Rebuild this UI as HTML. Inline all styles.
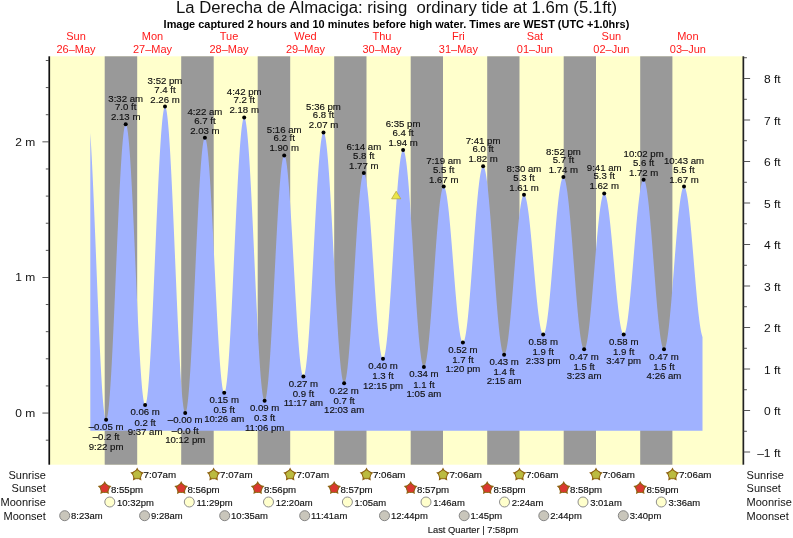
<!DOCTYPE html>
<html lang="en"><head><meta charset="utf-8"><title>La Derecha de Almaciga tide times</title>
<style>html,body{margin:0;padding:0;background:#fff}body{width:793px;height:538px;overflow:hidden}svg{display:block}text{font-family:"Liberation Sans",Arial,Helvetica,sans-serif;fill:#111}.s{font-size:9.3px;stroke:#111;stroke-width:0.15px}.a{font-size:11.5px}.r{font-size:11px}.d{font-size:11px;fill:#ff1a1a}.m{text-anchor:middle}.e{text-anchor:end}</style></head><body>
<svg width="793" height="538" viewBox="0 0 793 538">
<rect width="793" height="538" fill="#fff"/>
<text x="176.0" y="13.4" style="font-size:16px;white-space:pre" textLength="441" lengthAdjust="spacingAndGlyphs">La Derecha de Almaciga: rising  ordinary tide at 1.6m (5.1ft)</text>
<text x="163.6" y="28.0" style="font-size:10.2px;font-weight:bold;fill:#000" textLength="465.7" lengthAdjust="spacingAndGlyphs">Image captured 2 hours and 10 minutes before high water. Times are WEST (UTC +1.0hrs)</text>
<text class="d m" x="76.0" y="39.8">Sun</text><text class="d m" x="76.0" y="53">26–May</text>
<text class="d m" x="152.5" y="39.8">Mon</text><text class="d m" x="152.5" y="53">27–May</text>
<text class="d m" x="229.0" y="39.8">Tue</text><text class="d m" x="229.0" y="53">28–May</text>
<text class="d m" x="305.5" y="39.8">Wed</text><text class="d m" x="305.5" y="53">29–May</text>
<text class="d m" x="382.0" y="39.8">Thu</text><text class="d m" x="382.0" y="53">30–May</text>
<text class="d m" x="458.4" y="39.8">Fri</text><text class="d m" x="458.4" y="53">31–May</text>
<text class="d m" x="534.9" y="39.8">Sat</text><text class="d m" x="534.9" y="53">01–Jun</text>
<text class="d m" x="611.4" y="39.8">Sun</text><text class="d m" x="611.4" y="53">02–Jun</text>
<text class="d m" x="687.9" y="39.8">Mon</text><text class="d m" x="687.9" y="53">03–Jun</text>
<rect x="50" y="56.3" width="693" height="408.4" fill="#ffffcc"/>
<rect x="104.7" y="56.3" width="32.5" height="408.4" fill="#999999"/>
<rect x="181.2" y="56.3" width="32.5" height="408.4" fill="#999999"/>
<rect x="257.7" y="56.3" width="32.5" height="408.4" fill="#999999"/>
<rect x="334.2" y="56.3" width="32.3" height="408.4" fill="#999999"/>
<rect x="410.7" y="56.3" width="32.3" height="408.4" fill="#999999"/>
<rect x="487.2" y="56.3" width="32.3" height="408.4" fill="#999999"/>
<rect x="563.7" y="56.3" width="32.3" height="408.4" fill="#999999"/>
<rect x="640.2" y="56.3" width="32.2" height="408.4" fill="#999999"/>
<path d="M90.3 430.7 L90.3 133.00 L90.8 140.85 L91.3 149.45 L91.8 158.76 L92.3 168.72 L92.8 179.26 L93.3 190.32 L93.8 201.82 L94.3 213.70 L94.8 225.88 L95.3 238.28 L95.8 250.82 L96.3 263.43 L96.8 276.02 L97.3 288.53 L97.8 300.85 L98.3 312.93 L98.8 324.68 L99.3 336.03 L99.8 346.90 L100.3 357.23 L100.8 366.96 L101.3 376.02 L101.8 384.35 L102.3 391.90 L102.8 398.63 L103.3 404.49 L103.8 409.44 L104.3 413.46 L104.8 416.51 L105.3 418.58 L105.8 419.66 L106.3 419.75 L106.8 418.87 L107.3 417.07 L107.8 414.33 L108.3 410.69 L108.8 406.16 L109.3 400.77 L109.8 394.57 L110.3 387.57 L110.8 379.85 L111.3 371.43 L111.8 362.38 L112.3 352.75 L112.8 342.61 L113.3 332.01 L113.8 321.03 L114.3 309.74 L114.8 298.21 L115.3 286.51 L115.8 274.72 L116.3 262.91 L116.8 251.16 L117.3 239.54 L117.8 228.13 L118.3 217.00 L118.8 206.23 L119.3 195.87 L119.8 186.00 L120.3 176.67 L120.8 167.96 L121.3 159.91 L121.8 152.58 L122.3 146.01 L122.8 140.24 L123.3 135.32 L123.8 131.27 L124.3 128.12 L124.8 125.89 L125.3 124.59 L125.8 124.23 L126.3 124.80 L126.8 126.29 L127.3 128.69 L127.8 131.97 L128.3 136.13 L128.8 141.13 L129.3 146.94 L129.8 153.53 L130.3 160.84 L130.8 168.83 L131.3 177.45 L131.8 186.64 L132.3 196.35 L132.8 206.50 L133.3 217.03 L133.8 227.87 L134.3 238.96 L134.8 250.21 L135.3 261.56 L135.8 272.93 L136.3 284.24 L136.8 295.42 L137.3 306.40 L137.8 317.11 L138.3 327.47 L138.8 337.42 L139.3 346.89 L139.8 355.82 L140.3 364.15 L140.8 371.83 L141.3 378.80 L141.8 385.03 L142.3 390.46 L142.8 395.07 L143.3 398.82 L143.8 401.69 L144.3 403.66 L144.8 404.72 L145.3 404.86 L145.8 404.07 L146.3 402.36 L146.8 399.74 L147.3 396.22 L147.8 391.83 L148.3 386.60 L148.8 380.55 L149.3 373.72 L149.8 366.16 L150.3 357.92 L150.8 349.04 L151.3 339.58 L151.8 329.60 L152.3 319.16 L152.8 308.32 L153.3 297.16 L153.8 285.75 L154.3 274.14 L154.8 262.42 L155.3 250.66 L155.8 238.93 L156.3 227.31 L156.8 215.86 L157.3 204.66 L157.8 193.78 L158.3 183.28 L158.8 173.23 L159.3 163.70 L159.8 154.74 L160.3 146.41 L160.8 138.75 L161.3 131.83 L161.8 125.67 L162.3 120.33 L162.8 115.82 L163.3 112.19 L163.8 109.45 L164.3 107.61 L164.8 106.70 L165.3 106.72 L165.8 107.66 L166.3 109.52 L166.8 112.30 L167.3 115.96 L167.8 120.50 L168.3 125.88 L168.8 132.07 L169.3 139.04 L169.8 146.74 L170.3 155.12 L170.8 164.13 L171.3 173.73 L171.8 183.85 L172.3 194.42 L172.8 205.39 L173.3 216.70 L173.8 228.26 L174.3 240.01 L174.8 251.89 L175.3 263.81 L175.8 275.71 L176.3 287.51 L176.8 299.14 L177.3 310.54 L177.8 321.63 L178.3 332.34 L178.8 342.62 L179.3 352.39 L179.8 361.60 L180.3 370.20 L180.8 378.13 L181.3 385.34 L181.8 391.80 L182.3 397.45 L182.8 402.27 L183.3 406.23 L183.8 409.30 L184.3 411.47 L184.8 412.72 L185.3 413.04 L185.8 412.47 L186.3 411.02 L186.8 408.70 L187.3 405.54 L187.8 401.54 L188.3 396.74 L188.8 391.16 L189.3 384.85 L189.8 377.83 L190.3 370.17 L190.8 361.89 L191.3 353.07 L191.8 343.74 L192.3 333.99 L192.8 323.85 L193.3 313.41 L193.8 302.73 L194.3 291.87 L194.8 280.91 L195.3 269.91 L195.8 258.94 L196.3 248.08 L196.8 237.40 L197.3 226.96 L197.8 216.83 L198.3 207.07 L198.8 197.75 L199.3 188.92 L199.8 180.65 L200.3 172.98 L200.8 165.97 L201.3 159.66 L201.8 154.08 L202.3 149.28 L202.8 145.29 L203.3 142.12 L203.8 139.81 L204.3 138.36 L204.8 137.79 L205.3 138.09 L205.8 139.22 L206.3 141.18 L206.8 143.97 L207.3 147.55 L207.8 151.91 L208.3 157.02 L208.8 162.84 L209.3 169.34 L209.8 176.47 L210.3 184.19 L210.8 192.44 L211.3 201.17 L211.8 210.32 L212.3 219.84 L212.8 229.66 L213.3 239.71 L213.8 249.93 L214.3 260.25 L214.8 270.60 L215.3 280.92 L215.8 291.14 L216.3 301.18 L216.8 310.99 L217.3 320.49 L217.8 329.63 L218.3 338.35 L218.8 346.58 L219.3 354.28 L219.8 361.39 L220.3 367.86 L220.8 373.66 L221.3 378.74 L221.8 383.08 L222.3 386.63 L222.8 389.39 L223.3 391.33 L223.8 392.43 L224.3 392.70 L224.8 392.11 L225.3 390.68 L225.8 388.41 L226.3 385.32 L226.8 381.42 L227.3 376.74 L227.8 371.31 L228.3 365.16 L228.8 358.33 L229.3 350.85 L229.8 342.79 L230.3 334.19 L230.8 325.09 L231.3 315.56 L231.8 305.66 L232.3 295.45 L232.8 284.98 L233.3 274.34 L233.8 263.57 L234.3 252.75 L234.8 241.94 L235.3 231.22 L235.8 220.64 L236.3 210.27 L236.8 200.19 L237.3 190.44 L237.8 181.09 L238.3 172.20 L238.8 163.82 L239.3 156.01 L239.8 148.81 L240.3 142.26 L240.8 136.42 L241.3 131.30 L241.8 126.96 L242.3 123.40 L242.8 120.66 L243.3 118.75 L243.8 117.68 L244.3 117.47 L244.8 118.09 L245.3 119.56 L245.8 121.85 L246.3 124.95 L246.8 128.85 L247.3 133.52 L247.8 138.94 L248.3 145.07 L248.8 151.87 L249.3 159.32 L249.8 167.35 L250.3 175.93 L250.8 185.00 L251.3 194.51 L251.8 204.41 L252.3 214.63 L252.8 225.11 L253.3 235.79 L253.8 246.62 L254.3 257.51 L254.8 268.42 L255.3 279.27 L255.8 290.01 L256.3 300.56 L256.8 310.86 L257.3 320.86 L257.8 330.49 L258.3 339.70 L258.8 348.43 L259.3 356.63 L259.8 364.26 L260.3 371.26 L260.8 377.59 L261.3 383.23 L261.8 388.12 L262.3 392.26 L262.8 395.60 L263.3 398.13 L263.8 399.85 L264.3 400.72 L264.8 400.76 L265.3 400.02 L265.8 398.49 L266.3 396.19 L266.8 393.14 L267.3 389.36 L267.8 384.86 L268.3 379.69 L268.8 373.86 L269.3 367.43 L269.8 360.42 L270.3 352.89 L270.8 344.88 L271.3 336.44 L271.8 327.64 L272.3 318.51 L272.8 309.13 L273.3 299.55 L273.8 289.83 L274.3 280.04 L274.8 270.24 L275.3 260.48 L275.8 250.84 L276.3 241.38 L276.8 232.15 L277.3 223.21 L277.8 214.62 L278.3 206.44 L278.8 198.71 L279.3 191.50 L279.8 184.83 L280.3 178.77 L280.8 173.33 L281.3 168.57 L281.8 164.50 L282.3 161.16 L282.8 158.57 L283.3 156.74 L283.8 155.69 L284.3 155.42 L284.8 155.90 L285.3 157.13 L285.8 159.08 L286.3 161.75 L286.8 165.12 L287.3 169.16 L287.8 173.85 L288.3 179.16 L288.8 185.06 L289.3 191.49 L289.8 198.43 L290.3 205.82 L290.8 213.61 L291.3 221.75 L291.8 230.19 L292.3 238.86 L292.8 247.72 L293.3 256.71 L293.8 265.75 L294.3 274.79 L294.8 283.78 L295.3 292.64 L295.8 301.33 L296.3 309.78 L296.8 317.93 L297.3 325.74 L297.8 333.14 L298.3 340.10 L298.8 346.55 L299.3 352.47 L299.8 357.80 L300.3 362.52 L300.8 366.59 L301.3 369.98 L301.8 372.68 L302.3 374.66 L302.8 375.91 L303.3 376.42 L303.8 376.20 L304.3 375.23 L304.8 373.52 L305.3 371.09 L305.8 367.95 L306.3 364.12 L306.8 359.62 L307.3 354.48 L307.8 348.73 L308.3 342.41 L308.8 335.55 L309.3 328.19 L309.8 320.39 L310.3 312.19 L310.8 303.63 L311.3 294.78 L311.8 285.68 L312.3 276.39 L312.8 266.96 L313.3 257.46 L313.8 247.94 L314.3 238.46 L314.8 229.08 L315.3 219.85 L315.8 210.83 L316.3 202.07 L316.8 193.64 L317.3 185.57 L317.8 177.92 L318.3 170.74 L318.8 164.07 L319.3 157.95 L319.8 152.41 L320.3 147.50 L320.8 143.23 L321.3 139.64 L321.8 136.76 L322.3 134.58 L322.8 133.14 L323.3 132.43 L323.8 132.47 L324.3 133.24 L324.8 134.73 L325.3 136.94 L325.8 139.86 L326.3 143.47 L326.8 147.74 L327.3 152.66 L327.8 158.19 L328.3 164.30 L328.8 170.96 L329.3 178.13 L329.8 185.75 L330.3 193.80 L330.8 202.23 L331.3 210.98 L331.8 220.00 L332.3 229.24 L332.8 238.65 L333.3 248.17 L333.8 257.74 L334.3 267.32 L334.8 276.84 L335.3 286.25 L335.8 295.49 L336.3 304.52 L336.8 313.27 L337.3 321.69 L337.8 329.75 L338.3 337.38 L338.8 344.55 L339.3 351.21 L339.8 357.33 L340.3 362.87 L340.8 367.79 L341.3 372.07 L341.8 375.68 L342.3 378.61 L342.8 380.83 L343.3 382.33 L343.8 383.10 L344.3 383.15 L344.8 382.53 L345.3 381.23 L345.8 379.29 L346.3 376.70 L346.8 373.49 L347.3 369.66 L347.8 365.26 L348.3 360.31 L348.8 354.83 L349.3 348.87 L349.8 342.45 L350.3 335.63 L350.8 328.44 L351.3 320.94 L351.8 313.16 L352.3 305.16 L352.8 296.98 L353.3 288.69 L353.8 280.33 L354.3 271.96 L354.8 263.62 L355.3 255.38 L355.8 247.28 L356.3 239.38 L356.8 231.72 L357.3 224.36 L357.8 217.34 L358.3 210.71 L358.8 204.50 L359.3 198.76 L359.8 193.53 L360.3 188.83 L360.8 184.71 L361.3 181.17 L361.8 178.25 L362.3 175.96 L362.8 174.33 L363.3 173.35 L363.8 173.04 L364.3 173.37 L364.8 174.32 L365.3 175.89 L365.8 178.06 L366.3 180.82 L366.8 184.15 L367.3 188.03 L367.8 192.44 L368.3 197.33 L368.8 202.69 L369.3 208.47 L369.8 214.63 L370.3 221.14 L370.8 227.95 L371.3 235.02 L371.8 242.29 L372.3 249.72 L372.8 257.26 L373.3 264.86 L373.8 272.46 L374.3 280.02 L374.8 287.49 L375.3 294.81 L375.8 301.94 L376.3 308.82 L376.8 315.42 L377.3 321.69 L377.8 327.58 L378.3 333.06 L378.8 338.09 L379.3 342.63 L379.8 346.66 L380.3 350.15 L380.8 353.07 L381.3 355.41 L381.8 357.15 L382.3 358.27 L382.8 358.78 L383.3 358.66 L383.8 357.91 L384.3 356.54 L384.8 354.54 L385.3 351.94 L385.8 348.75 L386.3 344.99 L386.8 340.68 L387.3 335.84 L387.8 330.52 L388.3 324.73 L388.8 318.51 L389.3 311.91 L389.8 304.96 L390.3 297.71 L390.8 290.19 L391.3 282.46 L391.8 274.55 L392.3 266.52 L392.8 258.42 L393.3 250.30 L393.8 242.20 L394.3 234.17 L394.8 226.27 L395.3 218.54 L395.8 211.02 L396.3 203.77 L396.8 196.82 L397.3 190.22 L397.8 184.01 L398.3 178.23 L398.8 172.91 L399.3 168.08 L399.8 163.77 L400.3 160.02 L400.8 156.83 L401.3 154.23 L401.8 152.25 L402.3 150.87 L402.8 150.13 L403.3 150.02 L403.8 150.53 L404.3 151.66 L404.8 153.41 L405.3 155.76 L405.8 158.70 L406.3 162.22 L406.8 166.28 L407.3 170.88 L407.8 175.98 L408.3 181.56 L408.8 187.58 L409.3 194.00 L409.8 200.80 L410.3 207.92 L410.8 215.34 L411.3 223.01 L411.8 230.88 L412.3 238.90 L412.8 247.04 L413.3 255.25 L413.8 263.47 L414.3 271.67 L414.8 279.79 L415.3 287.79 L415.8 295.61 L416.3 303.23 L416.8 310.59 L417.3 317.65 L417.8 324.36 L418.3 330.70 L418.8 336.63 L419.3 342.10 L419.8 347.09 L420.3 351.58 L420.8 355.53 L421.3 358.92 L421.8 361.73 L422.3 363.95 L422.8 365.57 L423.3 366.57 L423.8 366.94 L424.3 366.72 L424.8 365.93 L425.3 364.59 L425.8 362.70 L426.3 360.27 L426.8 357.32 L427.3 353.87 L427.8 349.93 L428.3 345.54 L428.8 340.72 L429.3 335.49 L429.8 329.91 L430.3 323.98 L430.8 317.77 L431.3 311.29 L431.8 304.61 L432.3 297.74 L432.8 290.75 L433.3 283.67 L433.8 276.54 L434.3 269.42 L434.8 262.34 L435.3 255.36 L435.8 248.50 L436.3 241.83 L436.8 235.37 L437.3 229.17 L437.8 223.27 L438.3 217.70 L438.8 212.51 L439.3 207.71 L439.8 203.35 L440.3 199.44 L440.8 196.02 L441.3 193.10 L441.8 190.71 L442.3 188.85 L442.8 187.54 L443.3 186.79 L443.8 186.61 L444.3 186.95 L444.8 187.83 L445.3 189.21 L445.8 191.10 L446.3 193.48 L446.8 196.34 L447.3 199.66 L447.8 203.42 L448.3 207.58 L448.8 212.12 L449.3 217.02 L449.8 222.24 L450.3 227.74 L450.8 233.49 L451.3 239.44 L451.8 245.57 L452.3 251.82 L452.8 258.16 L453.3 264.54 L453.8 270.92 L454.3 277.26 L454.8 283.51 L455.3 289.64 L455.8 295.59 L456.3 301.34 L456.8 306.85 L457.3 312.07 L457.8 316.97 L458.3 321.52 L458.8 325.68 L459.3 329.44 L459.8 332.76 L460.3 335.63 L460.8 338.02 L461.3 339.91 L461.8 341.30 L462.3 342.18 L462.8 342.53 L463.3 342.36 L463.8 341.66 L464.3 340.43 L464.8 338.69 L465.3 336.43 L465.8 333.69 L466.3 330.46 L466.8 326.78 L467.3 322.66 L467.8 318.14 L468.3 313.22 L468.8 307.95 L469.3 302.37 L469.8 296.49 L470.3 290.35 L470.8 284.01 L471.3 277.48 L471.8 270.81 L472.3 264.05 L472.8 257.22 L473.3 250.38 L473.8 243.57 L474.3 236.82 L474.8 230.17 L475.3 223.67 L475.8 217.36 L476.3 211.27 L476.8 205.44 L477.3 199.90 L477.8 194.69 L478.3 189.85 L478.8 185.39 L479.3 181.34 L479.8 177.74 L480.3 174.60 L480.8 171.93 L481.3 169.77 L481.8 168.11 L482.3 166.98 L482.8 166.37 L483.3 166.29 L483.8 166.74 L484.3 167.72 L484.8 169.22 L485.3 171.24 L485.8 173.76 L486.3 176.77 L486.8 180.25 L487.3 184.18 L487.8 188.54 L488.3 193.31 L488.8 198.45 L489.3 203.95 L489.8 209.76 L490.3 215.86 L490.8 222.21 L491.3 228.77 L491.8 235.52 L492.3 242.40 L492.8 249.39 L493.3 256.44 L493.8 263.51 L494.3 270.57 L494.8 277.57 L495.3 284.47 L495.8 291.24 L496.3 297.83 L496.8 304.22 L497.3 310.35 L497.8 316.21 L498.3 321.75 L498.8 326.95 L499.3 331.78 L499.8 336.20 L500.3 340.20 L500.8 343.74 L501.3 346.82 L501.8 349.42 L502.3 351.51 L502.8 353.09 L503.3 354.15 L503.8 354.68 L504.3 354.68 L504.8 354.18 L505.3 353.19 L505.8 351.71 L506.3 349.76 L506.8 347.33 L507.3 344.46 L507.8 341.15 L508.3 337.43 L508.8 333.32 L509.3 328.84 L509.8 324.03 L510.3 318.91 L510.8 313.52 L511.3 307.89 L511.8 302.05 L512.3 296.04 L512.8 289.89 L513.3 283.66 L513.8 277.37 L514.3 271.06 L514.8 264.77 L515.3 258.55 L515.8 252.43 L516.3 246.44 L516.8 240.64 L517.3 235.04 L517.8 229.69 L518.3 224.62 L518.8 219.86 L519.3 215.45 L519.8 211.40 L520.3 207.75 L520.8 204.51 L521.3 201.71 L521.8 199.36 L522.3 197.48 L522.8 196.08 L523.3 195.18 L523.8 194.76 L524.3 194.84 L524.8 195.38 L525.3 196.38 L525.8 197.83 L526.3 199.72 L526.8 202.05 L527.3 204.78 L527.8 207.92 L528.3 211.43 L528.8 215.30 L529.3 219.49 L529.8 223.98 L530.3 228.74 L530.8 233.73 L531.3 238.94 L531.8 244.31 L532.3 249.81 L532.8 255.42 L533.3 261.08 L533.8 266.77 L534.3 272.44 L534.8 278.07 L535.3 283.60 L535.8 289.00 L536.3 294.25 L536.8 299.29 L537.3 304.11 L537.8 308.66 L538.3 312.92 L538.8 316.86 L539.3 320.46 L539.8 323.68 L540.3 326.51 L540.8 328.93 L541.3 330.92 L541.8 332.47 L542.3 333.57 L542.8 334.22 L543.3 334.40 L543.8 334.11 L544.3 333.34 L544.8 332.10 L545.3 330.40 L545.8 328.24 L546.3 325.64 L546.8 322.61 L547.3 319.18 L547.8 315.36 L548.3 311.18 L548.8 306.66 L549.3 301.83 L549.8 296.72 L550.3 291.36 L550.8 285.79 L551.3 280.03 L551.8 274.12 L552.3 268.11 L552.8 262.01 L553.3 255.88 L553.8 249.75 L554.3 243.66 L554.8 237.64 L555.3 231.72 L555.8 225.96 L556.3 220.38 L556.8 215.01 L557.3 209.89 L557.8 205.05 L558.3 200.51 L558.8 196.32 L559.3 192.48 L559.8 189.03 L560.3 185.99 L560.8 183.37 L561.3 181.19 L561.8 179.47 L562.3 178.21 L562.8 177.42 L563.3 177.11 L563.8 177.28 L564.3 177.95 L564.8 179.10 L565.3 180.73 L565.8 182.84 L566.3 185.40 L566.8 188.41 L567.3 191.84 L567.8 195.69 L568.3 199.92 L568.8 204.51 L569.3 209.44 L569.8 214.68 L570.3 220.19 L570.8 225.95 L571.3 231.92 L571.8 238.07 L572.3 244.37 L572.8 250.77 L573.3 257.25 L573.8 263.75 L574.3 270.26 L574.8 276.72 L575.3 283.11 L575.8 289.39 L576.3 295.51 L576.8 301.45 L577.3 307.17 L577.8 312.64 L578.3 317.83 L578.8 322.70 L579.3 327.24 L579.8 331.40 L580.3 335.18 L580.8 338.55 L581.3 341.48 L581.8 343.97 L582.3 346.00 L582.8 347.55 L583.3 348.62 L583.8 349.20 L584.3 349.29 L584.8 348.90 L585.3 348.04 L585.8 346.71 L586.3 344.91 L586.8 342.67 L587.3 339.99 L587.8 336.89 L588.3 333.38 L588.8 329.50 L589.3 325.27 L589.8 320.70 L590.3 315.83 L590.8 310.69 L591.3 305.30 L591.8 299.71 L592.3 293.95 L592.8 288.05 L593.3 282.05 L593.8 275.98 L594.3 269.88 L594.8 263.79 L595.3 257.75 L595.8 251.79 L596.3 245.95 L596.8 240.26 L597.3 234.77 L597.8 229.50 L598.3 224.49 L598.8 219.76 L599.3 215.35 L599.8 211.28 L600.3 207.58 L600.8 204.26 L601.3 201.36 L601.8 198.89 L602.3 196.86 L602.8 195.29 L603.3 194.18 L603.8 193.54 L604.3 193.38 L604.8 193.69 L605.3 194.45 L605.8 195.67 L606.3 197.33 L606.8 199.43 L607.3 201.95 L607.8 204.87 L608.3 208.18 L608.8 211.85 L609.3 215.86 L609.8 220.18 L610.3 224.79 L610.8 229.65 L611.3 234.74 L611.8 240.02 L612.3 245.45 L612.8 251.01 L613.3 256.64 L613.8 262.33 L614.3 268.03 L614.8 273.69 L615.3 279.30 L615.8 284.80 L616.3 290.17 L616.8 295.37 L617.3 300.36 L617.8 305.11 L618.3 309.59 L618.8 313.78 L619.3 317.64 L619.8 321.15 L620.3 324.28 L620.8 327.02 L621.3 329.35 L621.8 331.25 L622.3 332.71 L622.8 333.73 L623.3 334.29 L623.8 334.38 L624.3 334.00 L624.8 333.15 L625.3 331.82 L625.8 330.02 L626.3 327.78 L626.8 325.09 L627.3 321.98 L627.8 318.47 L628.3 314.58 L628.8 310.33 L629.3 305.74 L629.8 300.86 L630.3 295.70 L630.8 290.31 L631.3 284.71 L631.8 278.93 L632.3 273.02 L632.8 267.01 L633.3 260.94 L633.8 254.85 L634.3 248.77 L634.8 242.74 L635.3 236.80 L635.8 230.99 L636.3 225.34 L636.8 219.89 L637.3 214.67 L637.8 209.71 L638.3 205.05 L638.8 200.71 L639.3 196.72 L639.8 193.11 L640.3 189.89 L640.8 187.09 L641.3 184.73 L641.8 182.82 L642.3 181.37 L642.8 180.39 L643.3 179.89 L643.8 179.87 L644.3 180.35 L644.8 181.33 L645.3 182.80 L645.8 184.76 L646.3 187.19 L646.8 190.08 L647.3 193.41 L647.8 197.16 L648.3 201.31 L648.8 205.84 L649.3 210.71 L649.8 215.91 L650.3 221.39 L650.8 227.13 L651.3 233.09 L651.8 239.24 L652.3 245.54 L652.8 251.95 L653.3 258.43 L653.8 264.96 L654.3 271.48 L654.8 277.96 L655.3 284.35 L655.8 290.64 L656.3 296.76 L656.8 302.70 L657.3 308.41 L657.8 313.86 L658.3 319.02 L658.8 323.86 L659.3 328.34 L659.8 332.45 L660.3 336.15 L660.8 339.43 L661.3 342.26 L661.8 344.64 L662.3 346.54 L662.8 347.95 L663.3 348.87 L663.8 349.29 L664.3 349.21 L664.8 348.63 L665.3 347.55 L665.8 345.98 L666.3 343.93 L666.8 341.42 L667.3 338.45 L667.8 335.05 L668.3 331.23 L668.8 327.03 L669.3 322.46 L669.8 317.56 L670.3 312.36 L670.8 306.88 L671.3 301.16 L671.8 295.24 L672.3 289.14 L672.8 282.92 L673.3 276.61 L673.8 270.24 L674.3 263.86 L674.8 257.51 L675.3 251.22 L675.8 245.03 L676.3 238.98 L676.8 233.11 L677.3 227.46 L677.8 222.05 L678.3 216.93 L678.8 212.12 L679.3 207.65 L679.8 203.56 L680.3 199.86 L680.8 196.58 L681.3 193.74 L681.8 191.36 L682.3 189.44 L682.8 188.01 L683.3 187.07 L683.8 186.63 L684.3 186.69 L684.8 187.23 L685.3 188.24 L685.8 189.72 L686.3 191.66 L686.8 194.04 L687.3 196.86 L687.8 200.09 L688.3 203.72 L688.8 207.72 L689.3 212.07 L689.8 216.73 L690.3 221.68 L690.8 226.89 L691.3 232.33 L691.8 237.95 L692.3 243.73 L692.8 249.63 L693.3 255.61 L693.8 261.64 L694.3 267.67 L694.8 273.66 L695.3 279.59 L695.8 285.41 L696.3 291.09 L696.8 296.58 L697.3 301.86 L697.8 306.89 L698.3 311.65 L698.8 316.09 L699.3 320.19 L699.8 323.93 L700.3 327.29 L700.8 330.23 L701.3 332.75 L701.8 334.82 L702.3 336.44 L702.5 336.96 L702.5 430.7 Z" fill="#a0b2ff"/>
<rect x="48.4" y="56.3" width="1.7" height="408.4" fill="#111"/>
<rect x="742.5" y="56.3" width="1.7" height="408.4" fill="#222"/>
<rect x="45.8" y="439.72" width="3.2" height="0.9" fill="#444"/>
<rect x="42.4" y="412.60" width="6.6" height="0.9" fill="#444"/>
<text class="a e" x="35.3" y="416.8" textLength="20.0" lengthAdjust="spacingAndGlyphs">0 m</text>
<rect x="45.8" y="385.48" width="3.2" height="0.9" fill="#444"/>
<rect x="45.8" y="358.36" width="3.2" height="0.9" fill="#444"/>
<rect x="45.8" y="331.24" width="3.2" height="0.9" fill="#444"/>
<rect x="45.8" y="304.12" width="3.2" height="0.9" fill="#444"/>
<rect x="42.4" y="277.00" width="6.6" height="0.9" fill="#444"/>
<text class="a e" x="35.3" y="281.2" textLength="20.0" lengthAdjust="spacingAndGlyphs">1 m</text>
<rect x="45.8" y="249.88" width="3.2" height="0.9" fill="#444"/>
<rect x="45.8" y="222.76" width="3.2" height="0.9" fill="#444"/>
<rect x="45.8" y="195.64" width="3.2" height="0.9" fill="#444"/>
<rect x="45.8" y="168.52" width="3.2" height="0.9" fill="#444"/>
<rect x="42.4" y="141.40" width="6.6" height="0.9" fill="#444"/>
<text class="a e" x="35.3" y="145.6" textLength="20.0" lengthAdjust="spacingAndGlyphs">2 m</text>
<rect x="45.8" y="114.28" width="3.2" height="0.9" fill="#444"/>
<rect x="45.8" y="87.16" width="3.2" height="0.9" fill="#444"/>
<rect x="45.8" y="60.04" width="3.2" height="0.9" fill="#444"/>
<rect x="743.5" y="451.55" width="6.6" height="0.9" fill="#444"/>
<text class="a e" x="780.6" y="456.8" textLength="23.4" lengthAdjust="spacingAndGlyphs">–1 ft</text>
<rect x="743.5" y="430.80" width="3.4" height="0.9" fill="#444"/>
<rect x="743.5" y="410.05" width="6.6" height="0.9" fill="#444"/>
<text class="a e" x="780.6" y="415.3" textLength="16.7" lengthAdjust="spacingAndGlyphs">0 ft</text>
<rect x="743.5" y="389.30" width="3.4" height="0.9" fill="#444"/>
<rect x="743.5" y="368.55" width="6.6" height="0.9" fill="#444"/>
<text class="a e" x="780.6" y="373.8" textLength="16.7" lengthAdjust="spacingAndGlyphs">1 ft</text>
<rect x="743.5" y="347.80" width="3.4" height="0.9" fill="#444"/>
<rect x="743.5" y="327.05" width="6.6" height="0.9" fill="#444"/>
<text class="a e" x="780.6" y="332.3" textLength="16.7" lengthAdjust="spacingAndGlyphs">2 ft</text>
<rect x="743.5" y="306.30" width="3.4" height="0.9" fill="#444"/>
<rect x="743.5" y="285.55" width="6.6" height="0.9" fill="#444"/>
<text class="a e" x="780.6" y="290.8" textLength="16.7" lengthAdjust="spacingAndGlyphs">3 ft</text>
<rect x="743.5" y="264.80" width="3.4" height="0.9" fill="#444"/>
<rect x="743.5" y="244.05" width="6.6" height="0.9" fill="#444"/>
<text class="a e" x="780.6" y="249.3" textLength="16.7" lengthAdjust="spacingAndGlyphs">4 ft</text>
<rect x="743.5" y="223.30" width="3.4" height="0.9" fill="#444"/>
<rect x="743.5" y="202.55" width="6.6" height="0.9" fill="#444"/>
<text class="a e" x="780.6" y="207.8" textLength="16.7" lengthAdjust="spacingAndGlyphs">5 ft</text>
<rect x="743.5" y="181.80" width="3.4" height="0.9" fill="#444"/>
<rect x="743.5" y="161.05" width="6.6" height="0.9" fill="#444"/>
<text class="a e" x="780.6" y="166.3" textLength="16.7" lengthAdjust="spacingAndGlyphs">6 ft</text>
<rect x="743.5" y="140.30" width="3.4" height="0.9" fill="#444"/>
<rect x="743.5" y="119.55" width="6.6" height="0.9" fill="#444"/>
<text class="a e" x="780.6" y="124.8" textLength="16.7" lengthAdjust="spacingAndGlyphs">7 ft</text>
<rect x="743.5" y="98.80" width="3.4" height="0.9" fill="#444"/>
<rect x="743.5" y="78.05" width="6.6" height="0.9" fill="#444"/>
<text class="a e" x="780.6" y="83.3" textLength="16.7" lengthAdjust="spacingAndGlyphs">8 ft</text>
<rect x="743.5" y="57.30" width="3.4" height="0.9" fill="#444"/>
<path d="M396.2 191.2 L400.8 198.8 L391.6 198.8 Z" fill="#e9e648" stroke="#b5a436" stroke-width="0.7"/>
<circle cx="106.1" cy="419.8" r="2" fill="#000"/>
<text class="s m" x="106.1" y="430.2" textLength="34.8" lengthAdjust="spacingAndGlyphs">–0.05 m</text>
<text class="s m" x="106.1" y="440.4" textLength="26.8" lengthAdjust="spacingAndGlyphs">–0.2 ft</text>
<text class="s m" x="106.1" y="449.5" textLength="34.8" lengthAdjust="spacingAndGlyphs">9:22 pm</text>
<circle cx="125.7" cy="124.2" r="2" fill="#000"/>
<text class="s m" x="125.7" y="101.6" textLength="34.8" lengthAdjust="spacingAndGlyphs">3:32 am</text>
<text class="s m" x="125.7" y="110.2" textLength="21.4" lengthAdjust="spacingAndGlyphs">7.0 ft</text>
<text class="s m" x="125.7" y="120.2" textLength="29.4" lengthAdjust="spacingAndGlyphs">2.13 m</text>
<circle cx="145.1" cy="404.9" r="2" fill="#000"/>
<text class="s m" x="145.1" y="415.3" textLength="29.4" lengthAdjust="spacingAndGlyphs">0.06 m</text>
<text class="s m" x="145.1" y="425.5" textLength="21.4" lengthAdjust="spacingAndGlyphs">0.2 ft</text>
<text class="s m" x="145.1" y="434.6" textLength="34.8" lengthAdjust="spacingAndGlyphs">9:37 am</text>
<circle cx="165.0" cy="106.6" r="2" fill="#000"/>
<text class="s m" x="165.0" y="84.0" textLength="34.8" lengthAdjust="spacingAndGlyphs">3:52 pm</text>
<text class="s m" x="165.0" y="92.6" textLength="21.4" lengthAdjust="spacingAndGlyphs">7.4 ft</text>
<text class="s m" x="165.0" y="102.6" textLength="29.4" lengthAdjust="spacingAndGlyphs">2.26 m</text>
<circle cx="185.2" cy="413.1" r="2" fill="#000"/>
<text class="s m" x="185.2" y="423.4" textLength="34.8" lengthAdjust="spacingAndGlyphs">–0.00 m</text>
<text class="s m" x="185.2" y="433.7" textLength="26.8" lengthAdjust="spacingAndGlyphs">–0.0 ft</text>
<text class="s m" x="185.2" y="442.8" textLength="40.1" lengthAdjust="spacingAndGlyphs">10:12 pm</text>
<circle cx="204.9" cy="137.8" r="2" fill="#000"/>
<text class="s m" x="204.9" y="115.2" textLength="34.8" lengthAdjust="spacingAndGlyphs">4:22 am</text>
<text class="s m" x="204.9" y="123.8" textLength="21.4" lengthAdjust="spacingAndGlyphs">6.7 ft</text>
<text class="s m" x="204.9" y="133.8" textLength="29.4" lengthAdjust="spacingAndGlyphs">2.03 m</text>
<circle cx="224.2" cy="392.7" r="2" fill="#000"/>
<text class="s m" x="224.2" y="403.1" textLength="29.4" lengthAdjust="spacingAndGlyphs">0.15 m</text>
<text class="s m" x="224.2" y="413.3" textLength="21.4" lengthAdjust="spacingAndGlyphs">0.5 ft</text>
<text class="s m" x="224.2" y="422.4" textLength="40.1" lengthAdjust="spacingAndGlyphs">10:26 am</text>
<circle cx="244.2" cy="117.4" r="2" fill="#000"/>
<text class="s m" x="244.2" y="94.8" textLength="34.8" lengthAdjust="spacingAndGlyphs">4:42 pm</text>
<text class="s m" x="244.2" y="103.4" textLength="21.4" lengthAdjust="spacingAndGlyphs">7.2 ft</text>
<text class="s m" x="244.2" y="113.4" textLength="29.4" lengthAdjust="spacingAndGlyphs">2.18 m</text>
<circle cx="264.6" cy="400.8" r="2" fill="#000"/>
<text class="s m" x="264.6" y="411.2" textLength="29.4" lengthAdjust="spacingAndGlyphs">0.09 m</text>
<text class="s m" x="264.6" y="421.4" textLength="21.4" lengthAdjust="spacingAndGlyphs">0.3 ft</text>
<text class="s m" x="264.6" y="430.5" textLength="39.4" lengthAdjust="spacingAndGlyphs">11:06 pm</text>
<circle cx="284.2" cy="155.4" r="2" fill="#000"/>
<text class="s m" x="284.2" y="132.8" textLength="34.8" lengthAdjust="spacingAndGlyphs">5:16 am</text>
<text class="s m" x="284.2" y="141.4" textLength="21.4" lengthAdjust="spacingAndGlyphs">6.2 ft</text>
<text class="s m" x="284.2" y="151.4" textLength="29.4" lengthAdjust="spacingAndGlyphs">1.90 m</text>
<circle cx="303.4" cy="376.4" r="2" fill="#000"/>
<text class="s m" x="303.4" y="386.8" textLength="29.4" lengthAdjust="spacingAndGlyphs">0.27 m</text>
<text class="s m" x="303.4" y="397.0" textLength="21.4" lengthAdjust="spacingAndGlyphs">0.9 ft</text>
<text class="s m" x="303.4" y="406.1" textLength="39.4" lengthAdjust="spacingAndGlyphs">11:17 am</text>
<circle cx="323.5" cy="132.4" r="2" fill="#000"/>
<text class="s m" x="323.5" y="109.8" textLength="34.8" lengthAdjust="spacingAndGlyphs">5:36 pm</text>
<text class="s m" x="323.5" y="118.4" textLength="21.4" lengthAdjust="spacingAndGlyphs">6.8 ft</text>
<text class="s m" x="323.5" y="128.4" textLength="29.4" lengthAdjust="spacingAndGlyphs">2.07 m</text>
<circle cx="344.1" cy="383.2" r="2" fill="#000"/>
<text class="s m" x="344.1" y="393.6" textLength="29.4" lengthAdjust="spacingAndGlyphs">0.22 m</text>
<text class="s m" x="344.1" y="403.8" textLength="21.4" lengthAdjust="spacingAndGlyphs">0.7 ft</text>
<text class="s m" x="344.1" y="412.9" textLength="40.1" lengthAdjust="spacingAndGlyphs">12:03 am</text>
<circle cx="363.8" cy="173.0" r="2" fill="#000"/>
<text class="s m" x="363.8" y="150.4" textLength="34.8" lengthAdjust="spacingAndGlyphs">6:14 am</text>
<text class="s m" x="363.8" y="159.0" textLength="21.4" lengthAdjust="spacingAndGlyphs">5.8 ft</text>
<text class="s m" x="363.8" y="169.0" textLength="29.4" lengthAdjust="spacingAndGlyphs">1.77 m</text>
<circle cx="383.0" cy="358.8" r="2" fill="#000"/>
<text class="s m" x="383.0" y="369.2" textLength="29.4" lengthAdjust="spacingAndGlyphs">0.40 m</text>
<text class="s m" x="383.0" y="379.4" textLength="21.4" lengthAdjust="spacingAndGlyphs">1.3 ft</text>
<text class="s m" x="383.0" y="388.5" textLength="40.1" lengthAdjust="spacingAndGlyphs">12:15 pm</text>
<circle cx="403.1" cy="150.0" r="2" fill="#000"/>
<text class="s m" x="403.1" y="127.4" textLength="34.8" lengthAdjust="spacingAndGlyphs">6:35 pm</text>
<text class="s m" x="403.1" y="136.0" textLength="21.4" lengthAdjust="spacingAndGlyphs">6.4 ft</text>
<text class="s m" x="403.1" y="146.0" textLength="29.4" lengthAdjust="spacingAndGlyphs">1.94 m</text>
<circle cx="423.9" cy="366.9" r="2" fill="#000"/>
<text class="s m" x="423.9" y="377.3" textLength="29.4" lengthAdjust="spacingAndGlyphs">0.34 m</text>
<text class="s m" x="423.9" y="387.5" textLength="21.4" lengthAdjust="spacingAndGlyphs">1.1 ft</text>
<text class="s m" x="423.9" y="396.6" textLength="34.8" lengthAdjust="spacingAndGlyphs">1:05 am</text>
<circle cx="443.7" cy="186.6" r="2" fill="#000"/>
<text class="s m" x="443.7" y="164.0" textLength="34.8" lengthAdjust="spacingAndGlyphs">7:19 am</text>
<text class="s m" x="443.7" y="172.6" textLength="21.4" lengthAdjust="spacingAndGlyphs">5.5 ft</text>
<text class="s m" x="443.7" y="182.6" textLength="29.4" lengthAdjust="spacingAndGlyphs">1.67 m</text>
<circle cx="462.9" cy="342.5" r="2" fill="#000"/>
<text class="s m" x="462.9" y="352.9" textLength="29.4" lengthAdjust="spacingAndGlyphs">0.52 m</text>
<text class="s m" x="462.9" y="363.1" textLength="21.4" lengthAdjust="spacingAndGlyphs">1.7 ft</text>
<text class="s m" x="462.9" y="372.2" textLength="34.8" lengthAdjust="spacingAndGlyphs">1:20 pm</text>
<circle cx="483.1" cy="166.3" r="2" fill="#000"/>
<text class="s m" x="483.1" y="143.7" textLength="34.8" lengthAdjust="spacingAndGlyphs">7:41 pm</text>
<text class="s m" x="483.1" y="152.3" textLength="21.4" lengthAdjust="spacingAndGlyphs">6.0 ft</text>
<text class="s m" x="483.1" y="162.3" textLength="29.4" lengthAdjust="spacingAndGlyphs">1.82 m</text>
<circle cx="504.1" cy="354.7" r="2" fill="#000"/>
<text class="s m" x="504.1" y="365.1" textLength="29.4" lengthAdjust="spacingAndGlyphs">0.43 m</text>
<text class="s m" x="504.1" y="375.3" textLength="21.4" lengthAdjust="spacingAndGlyphs">1.4 ft</text>
<text class="s m" x="504.1" y="384.4" textLength="34.8" lengthAdjust="spacingAndGlyphs">2:15 am</text>
<circle cx="524.0" cy="194.7" r="2" fill="#000"/>
<text class="s m" x="524.0" y="172.1" textLength="34.8" lengthAdjust="spacingAndGlyphs">8:30 am</text>
<text class="s m" x="524.0" y="180.7" textLength="21.4" lengthAdjust="spacingAndGlyphs">5.3 ft</text>
<text class="s m" x="524.0" y="190.7" textLength="29.4" lengthAdjust="spacingAndGlyphs">1.61 m</text>
<circle cx="543.2" cy="334.4" r="2" fill="#000"/>
<text class="s m" x="543.2" y="344.8" textLength="29.4" lengthAdjust="spacingAndGlyphs">0.58 m</text>
<text class="s m" x="543.2" y="355.0" textLength="21.4" lengthAdjust="spacingAndGlyphs">1.9 ft</text>
<text class="s m" x="543.2" y="364.1" textLength="34.8" lengthAdjust="spacingAndGlyphs">2:33 pm</text>
<circle cx="563.4" cy="177.1" r="2" fill="#000"/>
<text class="s m" x="563.4" y="154.5" textLength="34.8" lengthAdjust="spacingAndGlyphs">8:52 pm</text>
<text class="s m" x="563.4" y="163.1" textLength="21.4" lengthAdjust="spacingAndGlyphs">5.7 ft</text>
<text class="s m" x="563.4" y="173.1" textLength="29.4" lengthAdjust="spacingAndGlyphs">1.74 m</text>
<circle cx="584.1" cy="349.3" r="2" fill="#000"/>
<text class="s m" x="584.1" y="359.7" textLength="29.4" lengthAdjust="spacingAndGlyphs">0.47 m</text>
<text class="s m" x="584.1" y="369.9" textLength="21.4" lengthAdjust="spacingAndGlyphs">1.5 ft</text>
<text class="s m" x="584.1" y="379.0" textLength="34.8" lengthAdjust="spacingAndGlyphs">3:23 am</text>
<circle cx="604.2" cy="193.4" r="2" fill="#000"/>
<text class="s m" x="604.2" y="170.8" textLength="34.8" lengthAdjust="spacingAndGlyphs">9:41 am</text>
<text class="s m" x="604.2" y="179.4" textLength="21.4" lengthAdjust="spacingAndGlyphs">5.3 ft</text>
<text class="s m" x="604.2" y="189.4" textLength="29.4" lengthAdjust="spacingAndGlyphs">1.62 m</text>
<circle cx="623.7" cy="334.4" r="2" fill="#000"/>
<text class="s m" x="623.7" y="344.8" textLength="29.4" lengthAdjust="spacingAndGlyphs">0.58 m</text>
<text class="s m" x="623.7" y="355.0" textLength="21.4" lengthAdjust="spacingAndGlyphs">1.9 ft</text>
<text class="s m" x="623.7" y="364.1" textLength="34.8" lengthAdjust="spacingAndGlyphs">3:47 pm</text>
<circle cx="643.6" cy="179.8" r="2" fill="#000"/>
<text class="s m" x="643.6" y="157.2" textLength="40.1" lengthAdjust="spacingAndGlyphs">10:02 pm</text>
<text class="s m" x="643.6" y="165.8" textLength="21.4" lengthAdjust="spacingAndGlyphs">5.6 ft</text>
<text class="s m" x="643.6" y="175.8" textLength="29.4" lengthAdjust="spacingAndGlyphs">1.72 m</text>
<circle cx="664.0" cy="349.3" r="2" fill="#000"/>
<text class="s m" x="664.0" y="359.7" textLength="29.4" lengthAdjust="spacingAndGlyphs">0.47 m</text>
<text class="s m" x="664.0" y="369.9" textLength="21.4" lengthAdjust="spacingAndGlyphs">1.5 ft</text>
<text class="s m" x="664.0" y="379.0" textLength="34.8" lengthAdjust="spacingAndGlyphs">4:26 am</text>
<circle cx="684.0" cy="186.6" r="2" fill="#000"/>
<text class="s m" x="684.0" y="164.0" textLength="40.1" lengthAdjust="spacingAndGlyphs">10:43 am</text>
<text class="s m" x="684.0" y="172.6" textLength="21.4" lengthAdjust="spacingAndGlyphs">5.5 ft</text>
<text class="s m" x="684.0" y="182.6" textLength="29.4" lengthAdjust="spacingAndGlyphs">1.67 m</text>
<text class="r e" x="45.8" y="478.7">Sunrise</text><text class="r" x="746.6" y="478.7">Sunrise</text>
<text class="r e" x="45.8" y="492.4">Sunset</text><text class="r" x="746.6" y="492.4">Sunset</text>
<text class="r e" x="45.8" y="506.0">Moonrise</text><text class="r" x="746.6" y="506.0">Moonrise</text>
<text class="r e" x="45.8" y="519.5">Moonset</text><text class="r" x="746.6" y="519.5">Moonset</text>
<polygon points="137.2,467.4 139.4,471.5 144.0,472.4 140.8,475.8 141.4,480.4 137.2,478.4 132.9,480.4 133.5,475.8 130.3,472.4 134.9,471.5" fill="#8f6313"/><circle cx="137.2" cy="474.6" r="4.7" fill="#8f6313"/><polygon points="137.2,470.7 140.9,473.4 139.5,477.8 134.9,477.8 133.4,473.4" fill="#bbbb40" stroke="#bbbb40" stroke-width="1" stroke-linejoin="round"/>
<text class="s" x="143.6" y="477.6" textLength="32.6" lengthAdjust="spacingAndGlyphs">7:07am</text>
<polygon points="104.7,481.0 106.9,485.1 111.5,486.0 108.3,489.4 108.9,494.0 104.7,492.0 100.4,494.0 101.0,489.4 97.8,486.0 102.4,485.1" fill="#8f6313"/><circle cx="104.7" cy="488.2" r="4.7" fill="#8f6313"/><polygon points="104.7,484.3 108.4,487.0 106.9,491.4 102.4,491.4 100.9,487.0" fill="#da3830" stroke="#da3830" stroke-width="1" stroke-linejoin="round"/>
<text class="s" x="110.9" y="492.5" textLength="32.3" lengthAdjust="spacingAndGlyphs">8:55pm</text>
<polygon points="213.6,467.4 215.9,471.5 220.5,472.4 217.3,475.8 217.9,480.4 213.6,478.4 209.4,480.4 210.0,475.8 206.8,472.4 211.4,471.5" fill="#8f6313"/><circle cx="213.6" cy="474.6" r="4.7" fill="#8f6313"/><polygon points="213.6,470.7 217.3,473.4 215.9,477.8 211.3,477.8 209.9,473.4" fill="#bbbb40" stroke="#bbbb40" stroke-width="1" stroke-linejoin="round"/>
<text class="s" x="220.0" y="477.6" textLength="32.6" lengthAdjust="spacingAndGlyphs">7:07am</text>
<polygon points="181.2,481.0 183.4,485.1 188.0,486.0 184.8,489.4 185.4,494.0 181.2,492.0 177.0,494.0 177.6,489.4 174.3,486.0 179.0,485.1" fill="#8f6313"/><circle cx="181.2" cy="488.2" r="4.7" fill="#8f6313"/><polygon points="181.2,484.3 184.9,487.0 183.5,491.4 178.9,491.4 177.5,487.0" fill="#da3830" stroke="#da3830" stroke-width="1" stroke-linejoin="round"/>
<text class="s" x="187.4" y="492.5" textLength="32.3" lengthAdjust="spacingAndGlyphs">8:56pm</text>
<polygon points="290.1,467.4 292.4,471.5 297.0,472.4 293.7,475.8 294.4,480.4 290.1,478.4 285.9,480.4 286.5,475.8 283.3,472.4 287.9,471.5" fill="#8f6313"/><circle cx="290.1" cy="474.6" r="4.7" fill="#8f6313"/><polygon points="290.1,470.7 293.8,473.4 292.4,477.8 287.8,477.8 286.4,473.4" fill="#bbbb40" stroke="#bbbb40" stroke-width="1" stroke-linejoin="round"/>
<text class="s" x="296.5" y="477.6" textLength="32.6" lengthAdjust="spacingAndGlyphs">7:07am</text>
<polygon points="257.7,481.0 259.9,485.1 264.5,486.0 261.3,489.4 261.9,494.0 257.7,492.0 253.4,494.0 254.1,489.4 250.8,486.0 255.4,485.1" fill="#8f6313"/><circle cx="257.7" cy="488.2" r="4.7" fill="#8f6313"/><polygon points="257.7,484.3 261.4,487.0 260.0,491.4 255.4,491.4 254.0,487.0" fill="#da3830" stroke="#da3830" stroke-width="1" stroke-linejoin="round"/>
<text class="s" x="263.9" y="492.5" textLength="32.3" lengthAdjust="spacingAndGlyphs">8:56pm</text>
<polygon points="366.5,467.4 368.8,471.5 373.4,472.4 370.2,475.8 370.8,480.4 366.5,478.4 362.3,480.4 362.9,475.8 359.7,472.4 364.3,471.5" fill="#8f6313"/><circle cx="366.5" cy="474.6" r="4.7" fill="#8f6313"/><polygon points="366.5,470.7 370.3,473.4 368.8,477.8 364.3,477.8 362.8,473.4" fill="#bbbb40" stroke="#bbbb40" stroke-width="1" stroke-linejoin="round"/>
<text class="s" x="372.9" y="477.6" textLength="32.6" lengthAdjust="spacingAndGlyphs">7:06am</text>
<polygon points="334.2,481.0 336.4,485.1 341.0,486.0 337.8,489.4 338.4,494.0 334.2,492.0 330.0,494.0 330.6,489.4 327.4,486.0 332.0,485.1" fill="#8f6313"/><circle cx="334.2" cy="488.2" r="4.7" fill="#8f6313"/><polygon points="334.2,484.3 337.9,487.0 336.5,491.4 331.9,491.4 330.5,487.0" fill="#da3830" stroke="#da3830" stroke-width="1" stroke-linejoin="round"/>
<text class="s" x="340.4" y="492.5" textLength="32.3" lengthAdjust="spacingAndGlyphs">8:57pm</text>
<polygon points="443.0,467.4 445.3,471.5 449.9,472.4 446.6,475.8 447.3,480.4 443.0,478.4 438.8,480.4 439.4,475.8 436.2,472.4 440.8,471.5" fill="#8f6313"/><circle cx="443.0" cy="474.6" r="4.7" fill="#8f6313"/><polygon points="443.0,470.7 446.7,473.4 445.3,477.8 440.7,477.8 439.3,473.4" fill="#bbbb40" stroke="#bbbb40" stroke-width="1" stroke-linejoin="round"/>
<text class="s" x="449.4" y="477.6" textLength="32.6" lengthAdjust="spacingAndGlyphs">7:06am</text>
<polygon points="410.7,481.0 412.9,485.1 417.5,486.0 414.3,489.4 414.9,494.0 410.7,492.0 406.4,494.0 407.1,489.4 403.8,486.0 408.4,485.1" fill="#8f6313"/><circle cx="410.7" cy="488.2" r="4.7" fill="#8f6313"/><polygon points="410.7,484.3 414.4,487.0 413.0,491.4 408.4,491.4 407.0,487.0" fill="#da3830" stroke="#da3830" stroke-width="1" stroke-linejoin="round"/>
<text class="s" x="416.9" y="492.5" textLength="32.3" lengthAdjust="spacingAndGlyphs">8:57pm</text>
<polygon points="519.5,467.4 521.7,471.5 526.4,472.4 523.1,475.8 523.7,480.4 519.5,478.4 515.3,480.4 515.9,475.8 512.7,472.4 517.3,471.5" fill="#8f6313"/><circle cx="519.5" cy="474.6" r="4.7" fill="#8f6313"/><polygon points="519.5,470.7 523.2,473.4 521.8,477.8 517.2,477.8 515.8,473.4" fill="#bbbb40" stroke="#bbbb40" stroke-width="1" stroke-linejoin="round"/>
<text class="s" x="525.9" y="477.6" textLength="32.6" lengthAdjust="spacingAndGlyphs">7:06am</text>
<polygon points="487.2,481.0 489.4,485.1 494.1,486.0 490.8,489.4 491.4,494.0 487.2,492.0 483.0,494.0 483.6,489.4 480.4,486.0 485.0,485.1" fill="#8f6313"/><circle cx="487.2" cy="488.2" r="4.7" fill="#8f6313"/><polygon points="487.2,484.3 490.9,487.0 489.5,491.4 484.9,491.4 483.5,487.0" fill="#da3830" stroke="#da3830" stroke-width="1" stroke-linejoin="round"/>
<text class="s" x="493.4" y="492.5" textLength="32.3" lengthAdjust="spacingAndGlyphs">8:58pm</text>
<polygon points="596.0,467.4 598.2,471.5 602.8,472.4 599.6,475.8 600.2,480.4 596.0,478.4 591.8,480.4 592.4,475.8 589.1,472.4 593.8,471.5" fill="#8f6313"/><circle cx="596.0" cy="474.6" r="4.7" fill="#8f6313"/><polygon points="596.0,470.7 599.7,473.4 598.3,477.8 593.7,477.8 592.3,473.4" fill="#bbbb40" stroke="#bbbb40" stroke-width="1" stroke-linejoin="round"/>
<text class="s" x="602.4" y="477.6" textLength="32.6" lengthAdjust="spacingAndGlyphs">7:06am</text>
<polygon points="563.7,481.0 565.9,485.1 570.5,486.0 567.3,489.4 567.9,494.0 563.7,492.0 559.5,494.0 560.1,489.4 556.8,486.0 561.5,485.1" fill="#8f6313"/><circle cx="563.7" cy="488.2" r="4.7" fill="#8f6313"/><polygon points="563.7,484.3 567.4,487.0 566.0,491.4 561.4,491.4 560.0,487.0" fill="#da3830" stroke="#da3830" stroke-width="1" stroke-linejoin="round"/>
<text class="s" x="569.9" y="492.5" textLength="32.3" lengthAdjust="spacingAndGlyphs">8:58pm</text>
<polygon points="672.5,467.4 674.7,471.5 679.3,472.4 676.1,475.8 676.7,480.4 672.5,478.4 668.2,480.4 668.9,475.8 665.6,472.4 670.2,471.5" fill="#8f6313"/><circle cx="672.5" cy="474.6" r="4.7" fill="#8f6313"/><polygon points="672.5,470.7 676.2,473.4 674.8,477.8 670.2,477.8 668.8,473.4" fill="#bbbb40" stroke="#bbbb40" stroke-width="1" stroke-linejoin="round"/>
<text class="s" x="678.9" y="477.6" textLength="32.6" lengthAdjust="spacingAndGlyphs">7:06am</text>
<polygon points="640.2,481.0 642.5,485.1 647.1,486.0 643.8,489.4 644.5,494.0 640.2,492.0 636.0,494.0 636.6,489.4 633.4,486.0 638.0,485.1" fill="#8f6313"/><circle cx="640.2" cy="488.2" r="4.7" fill="#8f6313"/><polygon points="640.2,484.3 643.9,487.0 642.5,491.4 637.9,491.4 636.5,487.0" fill="#da3830" stroke="#da3830" stroke-width="1" stroke-linejoin="round"/>
<text class="s" x="646.4" y="492.5" textLength="32.3" lengthAdjust="spacingAndGlyphs">8:59pm</text>
<circle cx="109.8" cy="502.0" r="5" fill="#ffffcc" stroke="#8e8e8e" stroke-width="1"/>
<text class="s" x="117.0" y="506.1" textLength="36.9" lengthAdjust="spacingAndGlyphs">10:32pm</text>
<circle cx="189.3" cy="502.0" r="5" fill="#ffffcc" stroke="#8e8e8e" stroke-width="1"/>
<text class="s" x="196.5" y="506.1" textLength="36.2" lengthAdjust="spacingAndGlyphs">11:29pm</text>
<circle cx="268.5" cy="502.0" r="5" fill="#ffffcc" stroke="#8e8e8e" stroke-width="1"/>
<text class="s" x="275.7" y="506.1" textLength="36.9" lengthAdjust="spacingAndGlyphs">12:20am</text>
<circle cx="347.4" cy="502.0" r="5" fill="#ffffcc" stroke="#8e8e8e" stroke-width="1"/>
<text class="s" x="354.6" y="506.1" textLength="31.6" lengthAdjust="spacingAndGlyphs">1:05am</text>
<circle cx="426.0" cy="502.0" r="5" fill="#ffffcc" stroke="#8e8e8e" stroke-width="1"/>
<text class="s" x="433.2" y="506.1" textLength="31.6" lengthAdjust="spacingAndGlyphs">1:46am</text>
<circle cx="504.5" cy="502.0" r="5" fill="#ffffcc" stroke="#8e8e8e" stroke-width="1"/>
<text class="s" x="511.7" y="506.1" textLength="31.6" lengthAdjust="spacingAndGlyphs">2:24am</text>
<circle cx="583.0" cy="502.0" r="5" fill="#ffffcc" stroke="#8e8e8e" stroke-width="1"/>
<text class="s" x="590.2" y="506.1" textLength="31.6" lengthAdjust="spacingAndGlyphs">3:01am</text>
<circle cx="661.3" cy="502.0" r="5" fill="#ffffcc" stroke="#8e8e8e" stroke-width="1"/>
<text class="s" x="668.5" y="506.1" textLength="31.6" lengthAdjust="spacingAndGlyphs">3:36am</text>
<circle cx="64.7" cy="515.7" r="5" fill="#c9c6bb" stroke="#858585" stroke-width="1"/>
<text class="s" x="71.1" y="518.9" textLength="31.6" lengthAdjust="spacingAndGlyphs">8:23am</text>
<circle cx="144.6" cy="515.7" r="5" fill="#c9c6bb" stroke="#858585" stroke-width="1"/>
<text class="s" x="151.0" y="518.9" textLength="31.6" lengthAdjust="spacingAndGlyphs">9:28am</text>
<circle cx="224.7" cy="515.7" r="5" fill="#c9c6bb" stroke="#858585" stroke-width="1"/>
<text class="s" x="231.1" y="518.9" textLength="36.9" lengthAdjust="spacingAndGlyphs">10:35am</text>
<circle cx="304.7" cy="515.7" r="5" fill="#c9c6bb" stroke="#858585" stroke-width="1"/>
<text class="s" x="311.1" y="518.9" textLength="36.2" lengthAdjust="spacingAndGlyphs">11:41am</text>
<circle cx="384.5" cy="515.7" r="5" fill="#c9c6bb" stroke="#858585" stroke-width="1"/>
<text class="s" x="390.9" y="518.9" textLength="36.9" lengthAdjust="spacingAndGlyphs">12:44pm</text>
<circle cx="464.2" cy="515.7" r="5" fill="#c9c6bb" stroke="#858585" stroke-width="1"/>
<text class="s" x="470.6" y="518.9" textLength="31.6" lengthAdjust="spacingAndGlyphs">1:45pm</text>
<circle cx="543.8" cy="515.7" r="5" fill="#c9c6bb" stroke="#858585" stroke-width="1"/>
<text class="s" x="550.2" y="518.9" textLength="31.6" lengthAdjust="spacingAndGlyphs">2:44pm</text>
<circle cx="623.3" cy="515.7" r="5" fill="#c9c6bb" stroke="#858585" stroke-width="1"/>
<text class="s" x="629.7" y="518.9" textLength="31.6" lengthAdjust="spacingAndGlyphs">3:40pm</text>
<text class="s" x="427.8" y="533" style="fill:#222" textLength="90.6" lengthAdjust="spacingAndGlyphs">Last Quarter | 7:58pm</text>
</svg></body></html>
